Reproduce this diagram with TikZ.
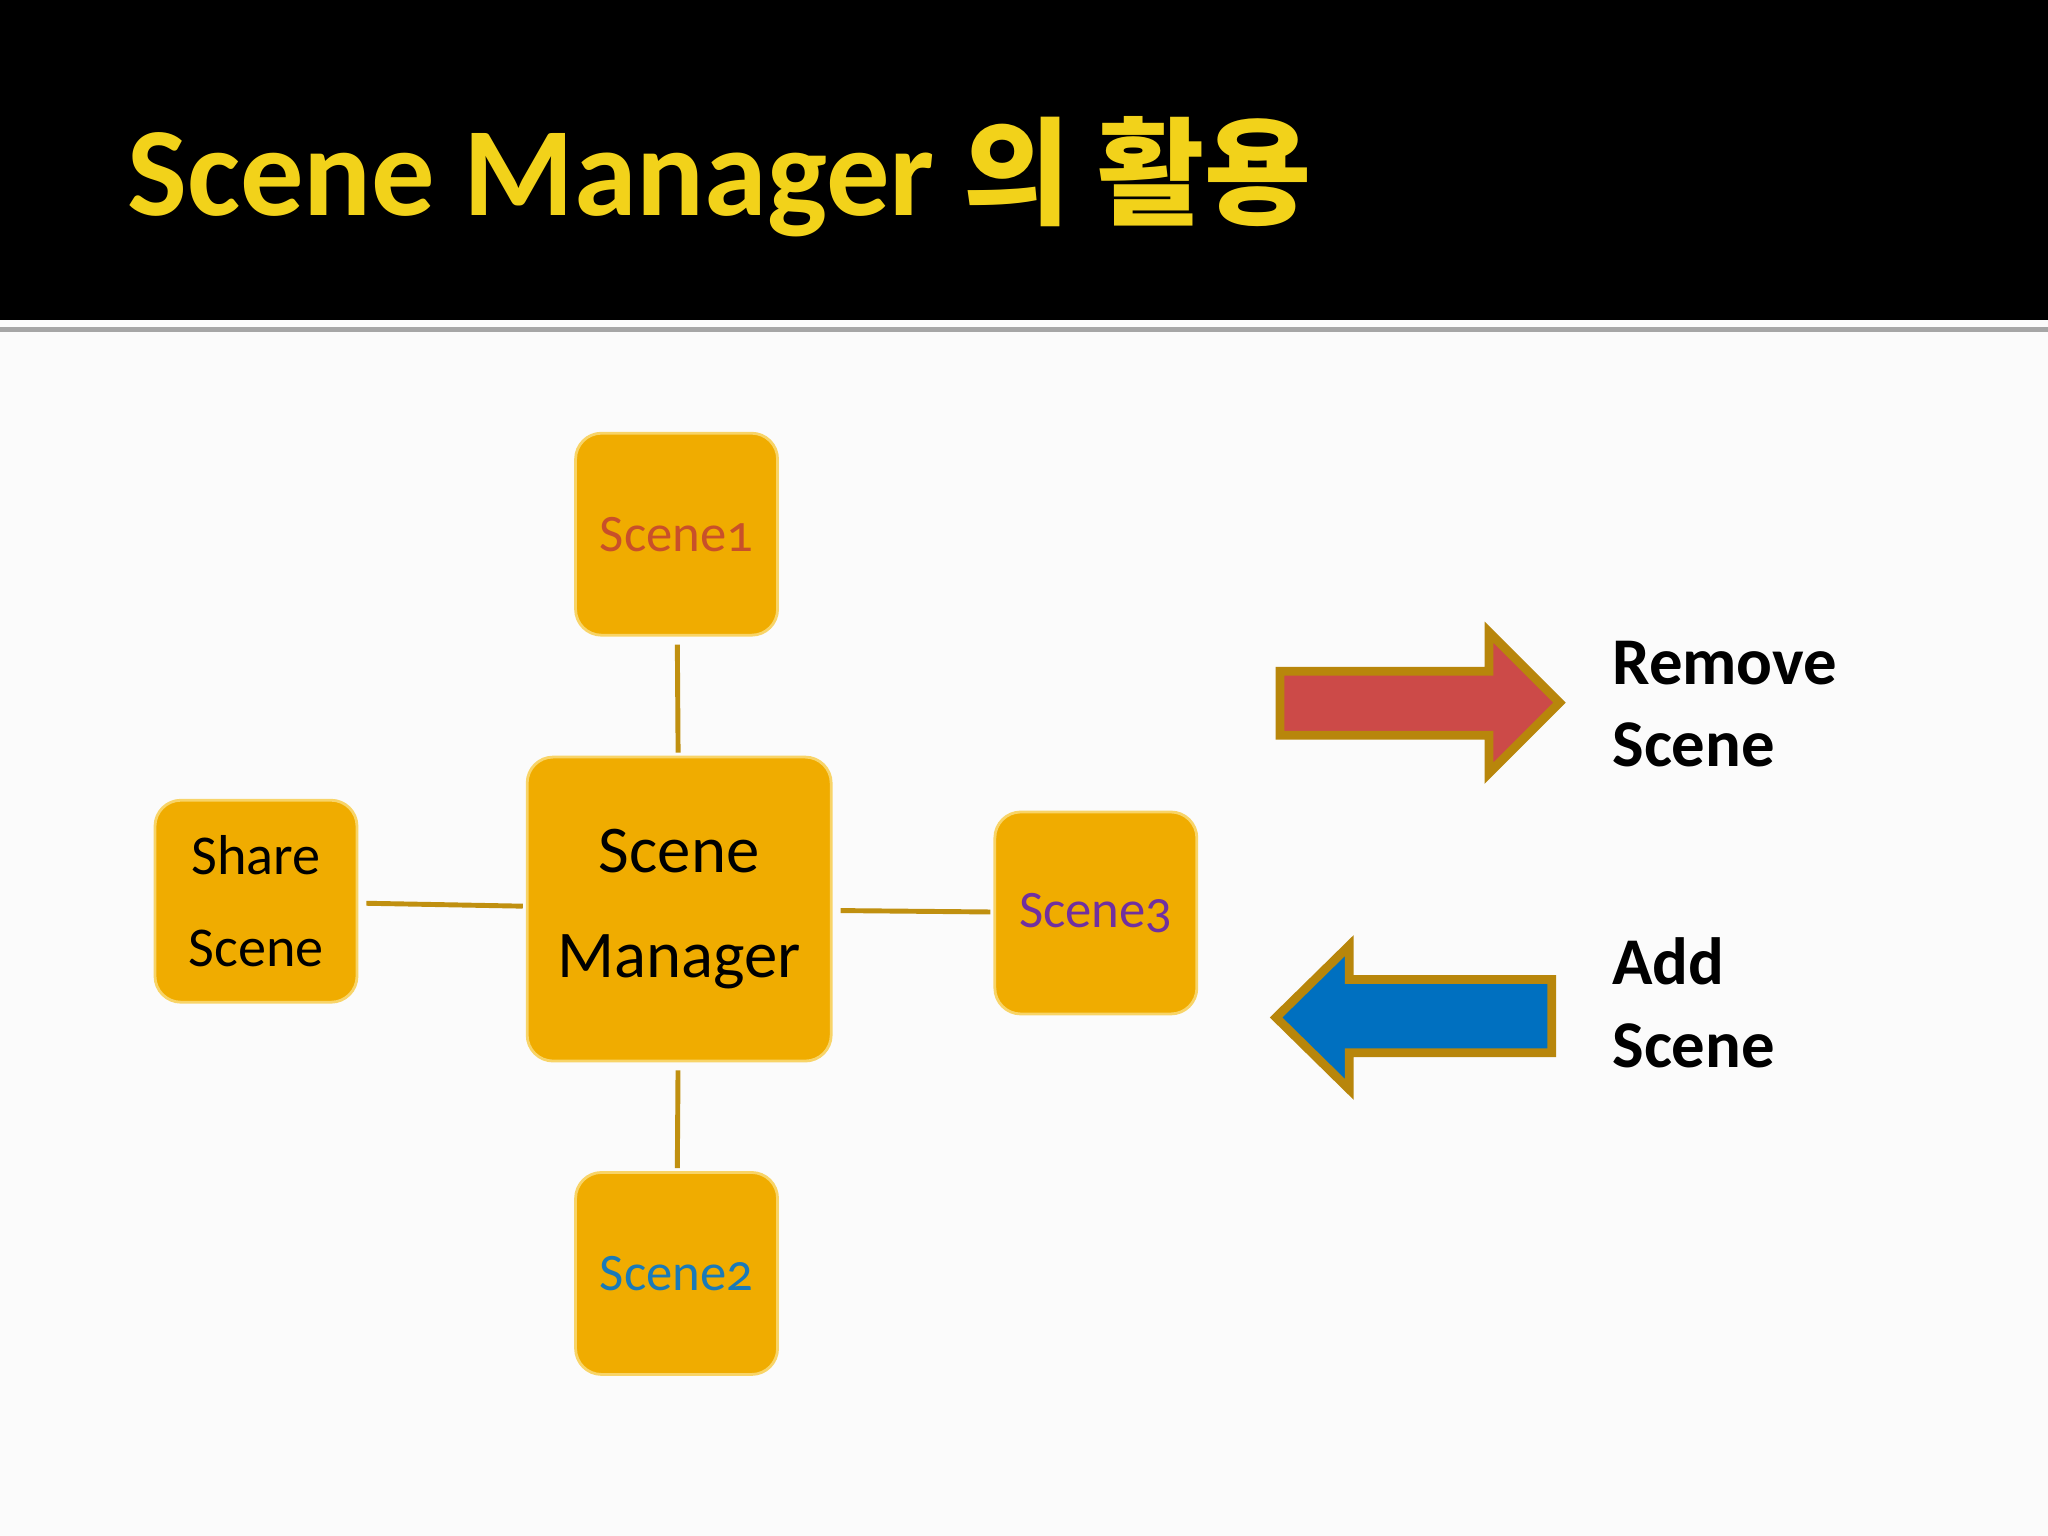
\documentclass[tikz,border=0pt]{standalone}
\usepackage{fontspec}
\setmainfont{Carlito}[Numbers=OldStyle]
\newfontfamily\krfont{Noto Sans CJK KR}[Scale=0.92]
\definecolor{boxfill}{HTML}{F0AC00}
\definecolor{boxedge}{HTML}{F8D468}
\definecolor{linkcol}{HTML}{C09010}
\definecolor{titlecol}{HTML}{F2D21A}
\definecolor{redfill}{HTML}{CC4A48}
\definecolor{bluefill}{HTML}{0070C0}
\definecolor{arrowedge}{HTML}{B8860B}
\tikzset{
  scenebox/.style={draw=boxedge,fill=boxfill,rounded corners=0.26cm,minimum size=2.02cm,line width=0.8pt,align=center},
  link/.style={linkcol,line width=1.4pt,shorten <=0.08cm,shorten >=0.03cm},
  sidetext/.style={anchor=west,align=left,font=\bfseries\fontsize{19}{23.5}\selectfont}
}
\begin{document}
\begin{tikzpicture}[x=0.01306cm,y=-0.01306cm]
\useasboundingbox (0,0) rectangle (1568,1176);
\fill[white!97!gray] (0,0) rectangle (1568,1176);
\fill[black] (0,0) rectangle (1568,245);
\fill[gray!70] (0,250) rectangle (1568,254);
\node[anchor=west,text=titlecol,font=\bfseries\fontsize{36}{40}\selectfont] (title) at (88,135) {Scene Manager {\krfont 의 활용}};
\node[scenebox,minimum size=3.04cm,font=\fontsize{19}{30}\selectfont] (SM) at (520,696) {Scene\\Manager};
\node[scenebox,font=\fontsize{15}{18}\selectfont,text={rgb,255:red,200;green,80;blue,42}] (S1) at (518,409) {Scene1};
\node[scenebox,font=\fontsize{15}{18}\selectfont,text={rgb,255:red,26;green,122;blue,184}] (S2) at (518,975) {Scene2};
\node[scenebox,font=\fontsize{15}{18}\selectfont,text={rgb,255:red,112;green,48;blue,160}] (S3) at (839,699) {Scene3};
\node[scenebox,font=\fontsize{16}{26}\selectfont] (SH) at (196,690) {Share\\Scene};
\draw[link] (S1) -- (SM);
\draw[link] (SM) -- (S2);
\draw[link] (SM) -- (S3);
\draw[link] (SH) -- (SM);
% arrows
\draw[arrowedge,fill=redfill,line width=2.5pt,line join=miter] (980,514) -- (1140,514) -- (1140,484) -- (1194,538) -- (1140,592) -- (1140,563) -- (980,563) -- cycle;
\draw[arrowedge,fill=bluefill,line width=2.5pt,line join=miter] (1188,750) -- (1033,750) -- (1033,724) -- (977,779) -- (1033,834) -- (1033,806) -- (1188,806) -- cycle;
\node[sidetext] (rm) at (1225,539) {Remove\\Scene};
\node[sidetext] (ad) at (1225,768) {Add\\Scene};
\end{tikzpicture}
\end{document}
